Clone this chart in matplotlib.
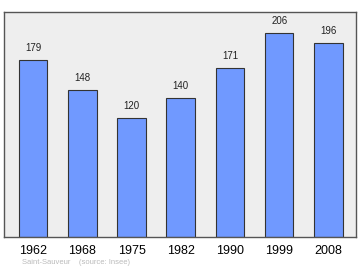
import matplotlib
matplotlib.use("Agg")
import matplotlib.pyplot as plt

plt.rcParams["font.family"] = ["Liberation Sans", "DejaVu Sans"]

years = ["1962", "1968", "1975", "1982", "1990", "1999", "2008"]
population = [179, 148, 120, 140, 171, 206, 196]

fig = plt.figure(figsize=(3.6, 2.7), dpi=100)
ax = fig.add_axes([4 / 360, 1 - 237 / 270, 352 / 360, 225 / 270])
ax.set_facecolor("#eeeeee")

x = range(len(years))
ax.bar(x, population, width=0.58, color="#7099ff", edgecolor="#333333", linewidth=0.8)
for i, v in enumerate(population):
    ax.text(i, v + 7, str(v), ha="center", va="bottom", fontsize=7, color="#222222")

ax.set_xlim(-0.59, 6.56)
ax.set_ylim(0, 227)
ax.set_xticks(list(x))
ax.set_xticklabels(years, fontsize=9)
ax.tick_params(axis="x", length=0, pad=6)
ax.set_yticks([])
for s in ax.spines.values():
    s.set_color("#555555")
    s.set_linewidth(1.0)

fig.text(22 / 360, 1 - 262 / 270, "Saint-Sauveur    (source: Insee)", fontsize=5.5,
         color="#bbbbbb", va="center", ha="left")

fig.savefig("out.png", dpi=100)
